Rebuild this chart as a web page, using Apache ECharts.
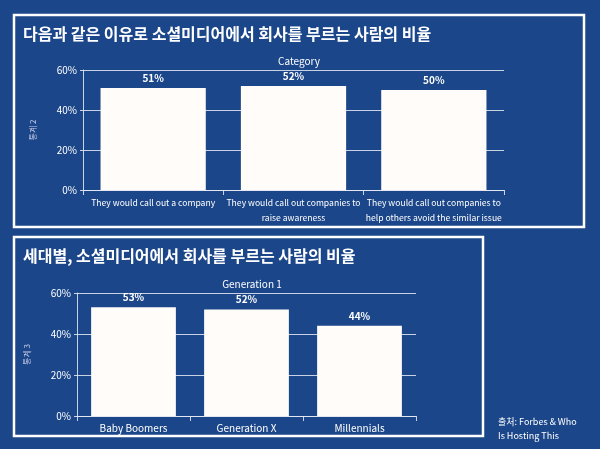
<!DOCTYPE html>
<html><head><meta charset="utf-8">
<script src="https://cdn.jsdelivr.net/npm/echarts@6/dist/echarts.min.js"></script>
<style>html,body{margin:0;padding:0;background:#1b4689;}#c{width:600px;height:449px;}</style>
</head><body><div id="c"></div>
<script>
const catsTop = ['They would call out a company','They would call out companies to\nraise awareness','They would call out companies to\nhelp others avoid the similar issue'];
const valsTop = [51, 52, 50];
const catsBot = ['Baby Boomers','Generation X','Millennials'];
const valsBot = [53, 52, 44];
const yTicks = [0, 20, 40, 60];

const F = '"Noto Sans CJK KR", "Noto Sans", sans-serif';
const lc = 'rgba(230,235,245,0.85)';
function xAx(idx, data, fs){
  return {type:'category', gridIndex:idx, data:data, position:'bottom',
    axisLine:{lineStyle:{color:lc}}, axisTick:{show:true, lineStyle:{color:lc}},
    axisLabel:{color:'#fff', fontFamily:F, fontSize:fs, lineHeight:15, interval:0, margin:5}};
}
function yAx(idx, name){
  return {type:'value', gridIndex:idx, min:yTicks[0], max:yTicks[yTicks.length-1], interval:20,
    name:name, nameLocation:'middle', nameRotate:90, nameGap:46,
    nameTextStyle:{color:'#c9cce8', fontFamily:F, fontSize:8},
    axisLine:{show:true, lineStyle:{color:lc}}, axisTick:{show:true, length:3, lineStyle:{color:lc}},
    splitLine:{lineStyle:{color:lc, width:1}},
    axisLabel:{color:'#fff', fontFamily:F, fontSize:10, formatter:'{value}%', margin:6}};
}
function ser(idx, vals){
  return {type:'bar', xAxisIndex:idx, yAxisIndex:idx, data:vals, barCategoryGap:'25%',
    itemStyle:{color:'#fffcf9'},
    label:{show:true, position:'top', color:'#fff', fontFamily:F, fontSize:10, fontWeight:'bold', formatter:'{c}%', distance:5}};
}
const chart = echarts.init(document.getElementById('c'));
chart.setOption({
  backgroundColor:'#1b4689',
  animation:false,
  title:[
    {text:'다음과 같은 이유로 소셜미디어에서 회사를 부르는 사람의 비율', left:18, top:21, textStyle:{color:'#fff', fontFamily:F, fontSize:16, fontWeight:'bold'}},
    {text:'Category', left:294, top:51, textAlign:'center', textStyle:{color:'#fff', fontFamily:F, fontSize:10, fontWeight:'normal'}},
    {text:'세대별, 소셜미디어에서 회사를 부르는 사람의 비율', left:18, top:243, textStyle:{color:'#fff', fontFamily:F, fontSize:16, fontWeight:'bold'}},
    {text:'Generation 1', left:247, top:274, textAlign:'center', textStyle:{color:'#fff', fontFamily:F, fontSize:10, fontWeight:'normal'}},
    {text:'출처: Forbes & Who\nIs Hosting This', left:493, top:410, textStyle:{color:'#fff', fontFamily:F, fontSize:9, fontWeight:'normal', lineHeight:14}}
  ],
  graphic:[
    {type:'rect', shape:{x:14, y:15, width:570, height:212}, style:{fill:'none', stroke:'#fff', lineWidth:2.5}},
    {type:'rect', shape:{x:14, y:237, width:469, height:199}, style:{fill:'none', stroke:'#fff', lineWidth:2.5}}
  ],
  grid:[
    {left:83, top:70, width:421, height:120},
    {left:77, top:293, width:339, height:123}
  ],
  xAxis:[xAx(0, catsTop, 8.6), xAx(1, catsBot, 10)],
  yAxis:[yAx(0,'통계 2'), yAx(1,'통계 3')],
  series:[ser(0, valsTop), ser(1, valsBot)]
});
</script></body></html>
